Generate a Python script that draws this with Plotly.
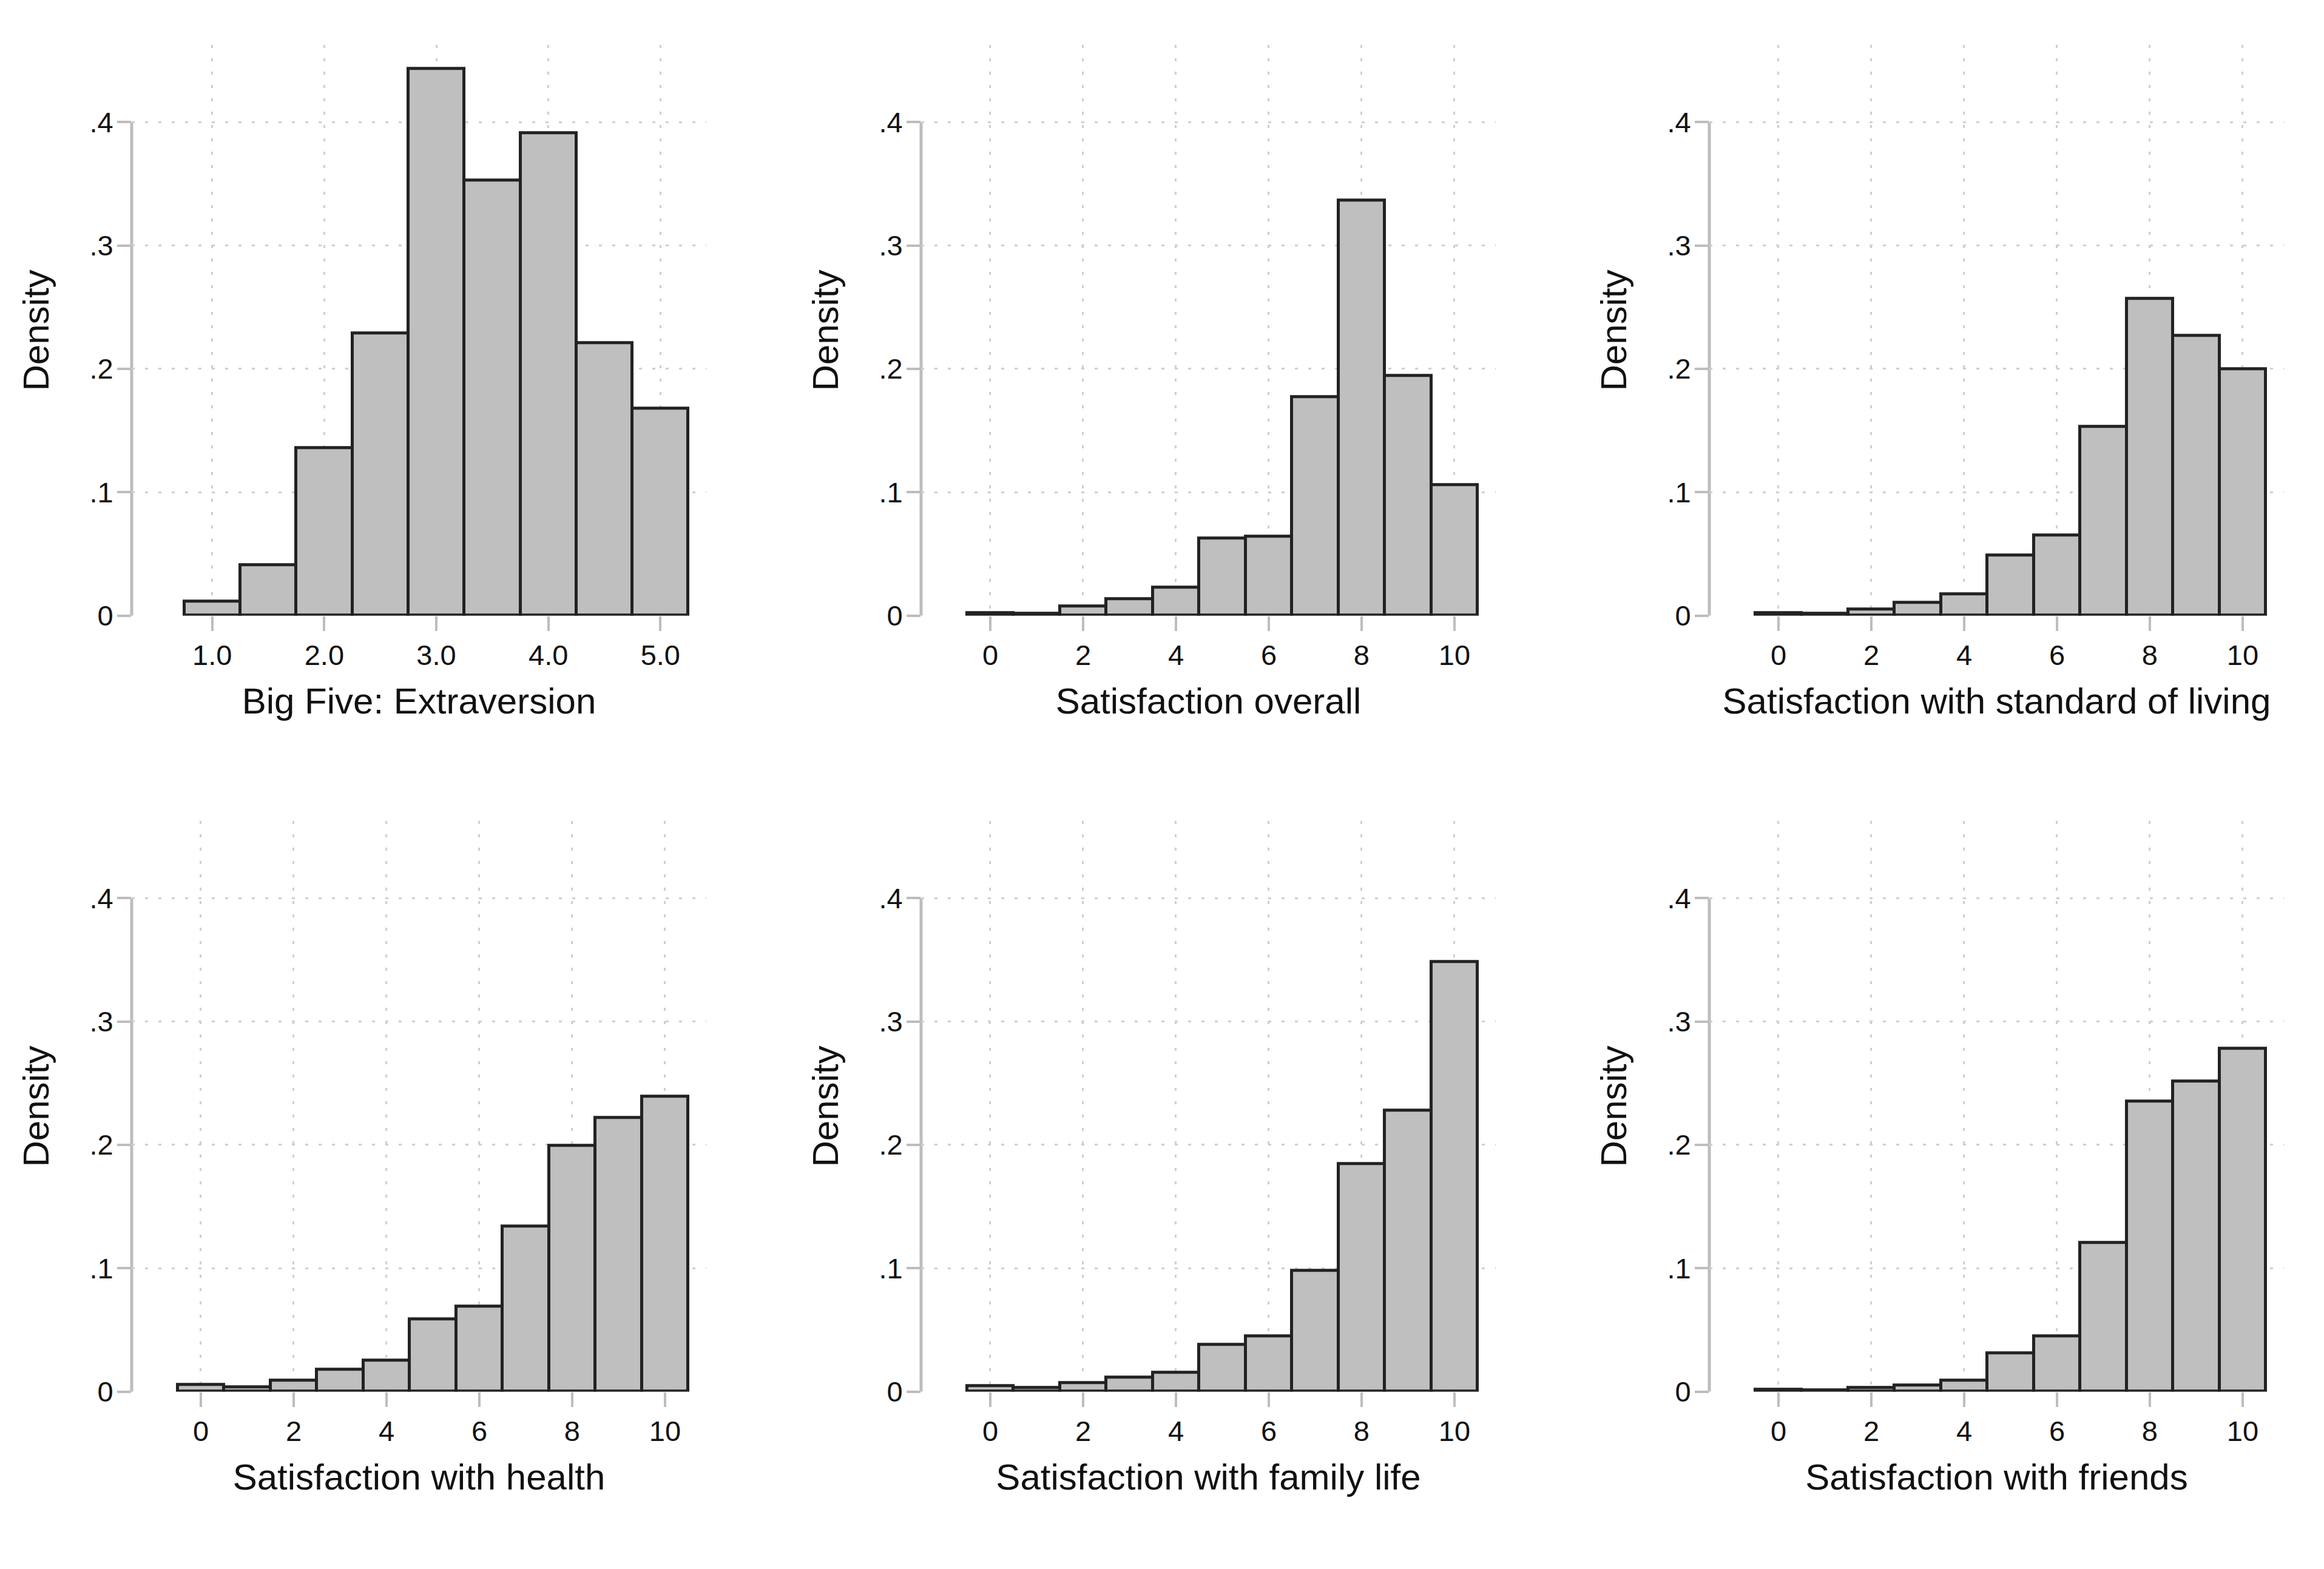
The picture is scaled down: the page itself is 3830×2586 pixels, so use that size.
import plotly.graph_objects as go

# Histogram densities (Stata-style 2x3 combined graph).
extra_mid = [1.0, 1.5, 2.0, 2.5, 3.0, 3.5, 4.0, 4.5, 5.0]
extra_density = [0.0114, 0.041, 0.136, 0.229, 0.443, 0.353, 0.391, 0.221, 0.168]

scale_mid = [0, 1, 2, 3, 4, 5, 6, 7, 8, 9, 10]
overall_density = [0.0023, 0.0016, 0.0078, 0.0133, 0.023, 0.0626, 0.0642, 0.177, 0.3366, 0.1945, 0.1057]
living_density = [0.0023, 0.0016, 0.005, 0.0106, 0.0176, 0.049, 0.065, 0.153, 0.257, 0.227, 0.200]
health_density = [0.0056, 0.0036, 0.0092, 0.0177, 0.0253, 0.0587, 0.0691, 0.1339, 0.1994, 0.2219, 0.2392]
family_density = [0.0048, 0.0032, 0.0072, 0.0113, 0.0153, 0.0382, 0.045, 0.098, 0.1845, 0.228, 0.3485]
friends_density = [0.0016, 0.0012, 0.0032, 0.0052, 0.0092, 0.031, 0.045, 0.1206, 0.2352, 0.2517, 0.2778]

extra_ticks = [1, 2, 3, 4, 5]
extra_ticktext = ["1.0", "2.0", "3.0", "4.0", "5.0"]
scale_ticks = [0, 2, 4, 6, 8, 10]
scale_ticktext = ["0", "2", "4", "6", "8", "10"]
y_ticks = [0, 0.1, 0.2, 0.3, 0.4]
y_ticktext = ["0", ".1", ".2", ".3", ".4"]

_FONT = "Liberation Sans, Arial, sans-serif"
_INK = "#111111"
_FILL = "#bfbfbf"
_EDGE = "#222222"
_AXIS = "#bdbdbd"
_GRID = "#cfcfcf"

W, H = 3830, 2586
COL_X = [217, 1518, 2817]      # pixel x of each y-axis line
ROW_Y0 = [1025, 2317]          # pixel y of density 0
PLOT_W, PLOT_H = 947, 950
Y_TOP = 0.4624

panels = [
    (extra_mid, extra_density, 0.5, "Big Five: Extraversion", [0.281, 5.41], extra_ticks, extra_ticktext),
    (scale_mid, overall_density, 1.0, "Satisfaction overall", [-1.49, 10.89], scale_ticks, scale_ticktext),
    (scale_mid, living_density, 1.0, "Satisfaction with standard of living", [-1.49, 10.89], scale_ticks, scale_ticktext),
    (scale_mid, health_density, 1.0, "Satisfaction with health", [-1.49, 10.89], scale_ticks, scale_ticktext),
    (scale_mid, family_density, 1.0, "Satisfaction with family life", [-1.49, 10.89], scale_ticks, scale_ticktext),
    (scale_mid, friends_density, 1.0, "Satisfaction with friends", [-1.49, 10.89], scale_ticks, scale_ticktext),
]

fig = go.Figure()
layout = {}
for i, (mids, dens, width, xtitle, xrange, xticks, xtext) in enumerate(panels):
    n = i + 1
    row, col = divmod(i, 3)
    xa = "xaxis" if n == 1 else f"xaxis{n}"
    ya = "yaxis" if n == 1 else f"yaxis{n}"
    xref = "x" if n == 1 else f"x{n}"
    yref = "y" if n == 1 else f"y{n}"

    fig.add_trace(go.Bar(
        x=mids, y=dens, width=width, xaxis=xref, yaxis=yref,
        marker=dict(color=_FILL, line=dict(color=_EDGE, width=5)),
        cliponaxis=False, showlegend=False,
        hovertemplate="%{x}: %{y:.3f}<extra></extra>",
    ))

    x0 = COL_X[col]
    y0 = ROW_Y0[row]
    layout[xa] = dict(
        domain=[x0 / W, (x0 + PLOT_W) / W], anchor=yref, range=xrange,
        tickvals=xticks, ticktext=xtext, ticks="outside", ticklen=24, tickwidth=4,
        tickcolor=_AXIS, showline=False, zeroline=False,
        showgrid=True, gridcolor=_GRID, gridwidth=3, griddash="5px,17px",
        tickfont=dict(family=_FONT, size=47, color=_INK), ticklabelstandoff=0,
        title=dict(text=xtitle, font=dict(family=_FONT, size=60, color=_INK), standoff=28),
    )
    layout[ya] = dict(
        domain=[1 - y0 / H, 1 - (y0 - PLOT_H) / H], anchor=xref, range=[0, Y_TOP],
        tickvals=y_ticks, ticktext=y_ticktext, ticks="outside", ticklen=23, tickwidth=4,
        tickcolor=_AXIS, showline=False, zeroline=False,
        showgrid=True, gridcolor=_GRID, gridwidth=3, griddash="5px,17px",
        tickfont=dict(family=_FONT, size=47, color=_INK), ticklabelstandoff=-3,
        title=dict(text="Density", font=dict(family=_FONT, size=60, color=_INK), standoff=47),
    )
    # Stata draws the y-axis line only over the labelled range 0 to .4
    fig.add_shape(type="line", xref=f"{xref} domain", yref=yref, x0=0, x1=0, y0=0, y1=0.4,
                  line=dict(color=_AXIS, width=5), layer="below")

fig.update_layout(
    **layout,
    width=W, height=H, margin=dict(l=0, r=0, t=0, b=0),
    paper_bgcolor="white", plot_bgcolor="white",
    bargap=0, showlegend=False,
    font=dict(family=_FONT, color=_INK),
)

fig.write_html("out.html", config={"displayModeBar": False},
               post_script="document.body.style.margin='0';")
